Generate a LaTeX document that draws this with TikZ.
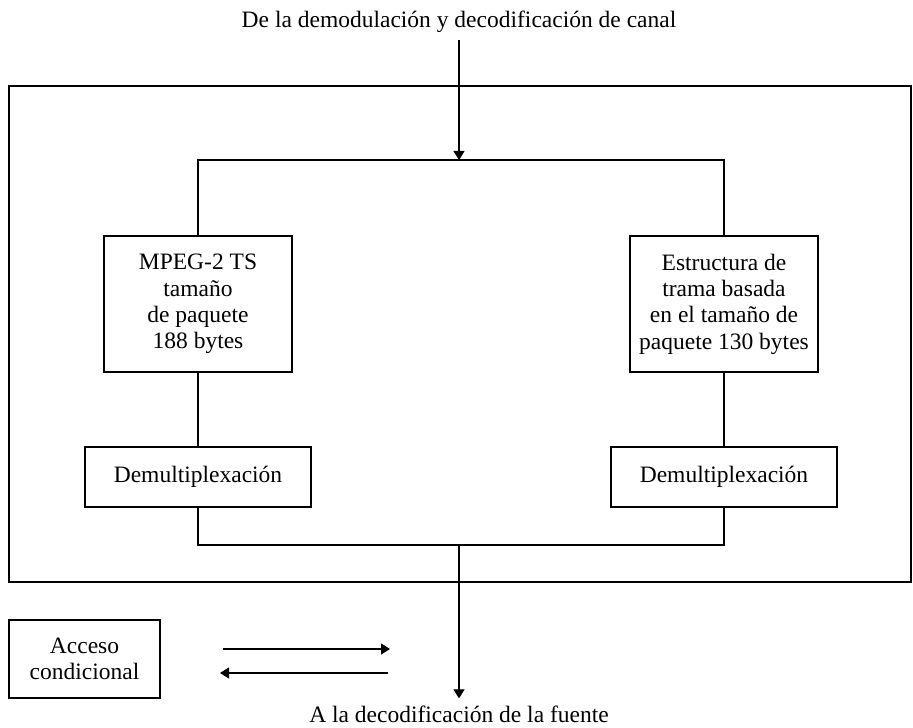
\documentclass[tikz,border=0pt]{standalone}
\usepackage{fontspec}
\setmainfont{Liberation Serif}
\usetikzlibrary{arrows.meta}

\begin{document}
\begin{tikzpicture}[x=0.5pt,y=-0.5pt,align=center,
  font=\fontsize{11.75}{13.2}\selectfont,
  blk/.style={draw,line width=1pt,inner sep=0pt},
  conn/.style={line width=0.55pt},
  tip/.style={conn,-{Triangle[length=4.5pt,width=5.5pt]}}]
\useasboundingbox (0,0) rectangle (913,727);
\node[anchor=base] (IN) at (459,28) {De la demodulación y decodificación de canal};
\draw[line width=0.7pt] (9,86) rectangle (911,582);
\coordinate (T) at (459,160);
\node[blk,minimum width=94pt,minimum height=68pt] (TS) at (198,304) {MPEG-2 TS\\tamaño\\de paquete\\188 bytes};
\node[blk,minimum width=94pt,minimum height=68pt] (TR) at (724,304) {Estructura de\\trama basada\\en el tamaño de\\paquete 130 bytes};
\node[blk,minimum width=113pt,minimum height=30pt] (D1) at (198,477) {Demultiplexación};
\node[blk,minimum width=113pt,minimum height=30pt] (D2) at (724,477) {Demultiplexación};
\coordinate (B) at (459,545);
\node[anchor=base] (OUT) at (459,722) {A la decodificación de la fuente};
\node[draw,line width=0.6pt,minimum width=75.5pt,minimum height=39pt] (CA) at (84.5,659) {Acceso\\condicional};
\coordinate (R1) at (223,649);
\coordinate (R2) at (390,649);
\coordinate (L1) at (388,673);
\coordinate (L2) at (220,673);
% connectors
\draw[tip] (IN.south) -- (T);
\draw[conn] (TS.north) |- (TR.north |- T) -- (TR.north);
\draw[conn] (TS.south) -- (D1.north);
\draw[conn] (TR.south) -- (D2.north);
\draw[conn] (D1.south) |- (D2.south |- B) -- (D2.south);
\draw[tip] (B) -- (OUT.north);
\draw[tip] (R1) -- (R2);
\draw[tip] (L1) -- (L2);
\end{tikzpicture}
\end{document}
